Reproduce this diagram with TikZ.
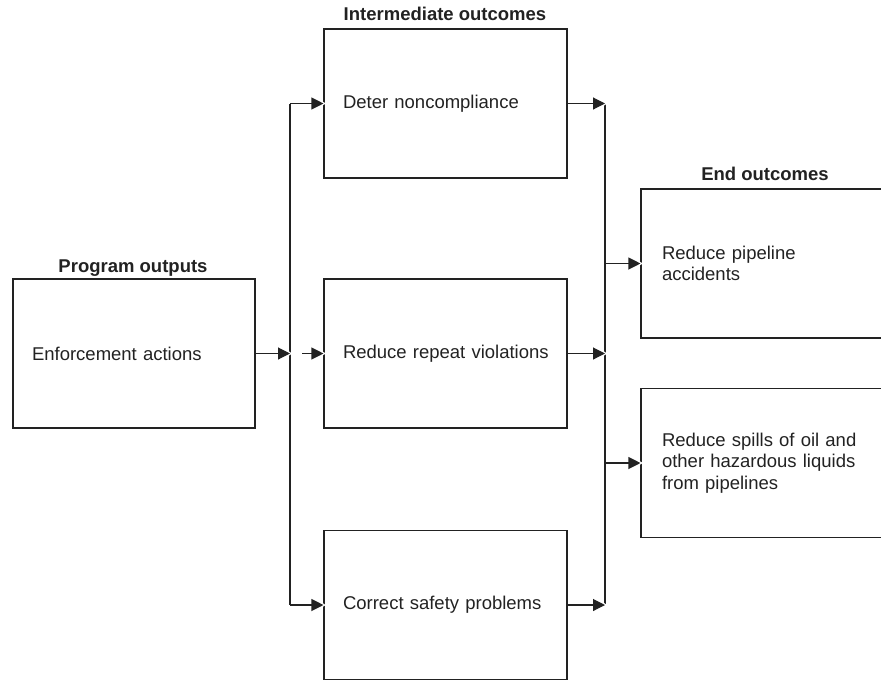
\documentclass[tikz,border=0pt]{standalone}
\usepackage{fontspec}
\setmainfont{Liberation Sans}
\usetikzlibrary{arrows.meta}
\definecolor{ink}{HTML}{222222}
\tikzset{
  flow/.style={draw=ink,line width=1.1pt,-{Triangle[length=12pt,width=12pt]},
    preaction={draw=white,line width=4pt,shorten <=5pt,shorten >=-2.5pt,-{Triangle[length=15pt,width=17pt]}}},
  trunk/.style={draw=ink,line width=1.1pt},
  boxtitle/.style={anchor=base,text=ink,font=\fontsize{18.5}{21.5}\selectfont\bfseries}
}

\begin{document}
\begin{tikzpicture}[x=1pt,y=-1pt,font=\fontsize{18.5}{21.5}\selectfont]
\useasboundingbox (0,0) rectangle (881,681);
\clip (0,0) rectangle (881,681);
\tikzstyle{every node}=[draw=ink,text=ink,line width=1.1pt,shape=rectangle,align=left,inner xsep=19pt,minimum height=149pt];
\node[text width=204pt,inner xsep=19pt] (p0) at (134,353.5) {Enforcement actions};
\node[text width=205pt] (m1) at (445.5,103.5) {Deter noncompliance};
\node[text width=205pt] (m2) at (445.5,353.5) {\mbox{Reduce repeat violations}};
\node[text width=205pt] (m3) at (445.5,605) {Correct safety problems};
\node[text width=230pt,inner xsep=21pt] (e1) at (777,263.5) {Reduce pipeline\\accidents};
\node[text width=230pt,inner xsep=21pt] (e2) at (777,463) {Reduce spills of oil and\\other hazardous liquids\\from pipelines};
\tikzstyle{every node}=[];
\node[boxtitle] (t0) at (133,272.5) {Program outputs};
\node[boxtitle] (t1) at (445,20) {Intermediate outcomes};
\node[boxtitle] (t2) at (765,180.5) {End outcomes};
% junction points
\coordinate (a0) at (290,353.5);
\coordinate (a1) at (290,103.5);
\coordinate (a2) at (302,353.5);
\coordinate (a3) at (290,605);
\coordinate (b1) at (605,103.5);
\coordinate (b2) at (605,353.5);
\coordinate (b3) at (605,605);
\coordinate (c1) at (605,263.5);
\coordinate (c2) at (605,463);
\draw[trunk] (a1) -- (a3);
\draw[trunk] (b1) -- (b3);
\draw[flow] (p0) -- (a0);
\draw[flow] (a1) -- (m1);
\draw[flow] (a2) -- (m2);
\draw[flow] (a3) -- (m3);
\draw[flow] (m1) -- (b1);
\draw[flow] (m2) -- (b2);
\draw[flow] (m3) -- (b3);
\draw[flow] (c1) -- (e1);
\draw[flow] (c2) -- (e2);
\end{tikzpicture}
\end{document}
